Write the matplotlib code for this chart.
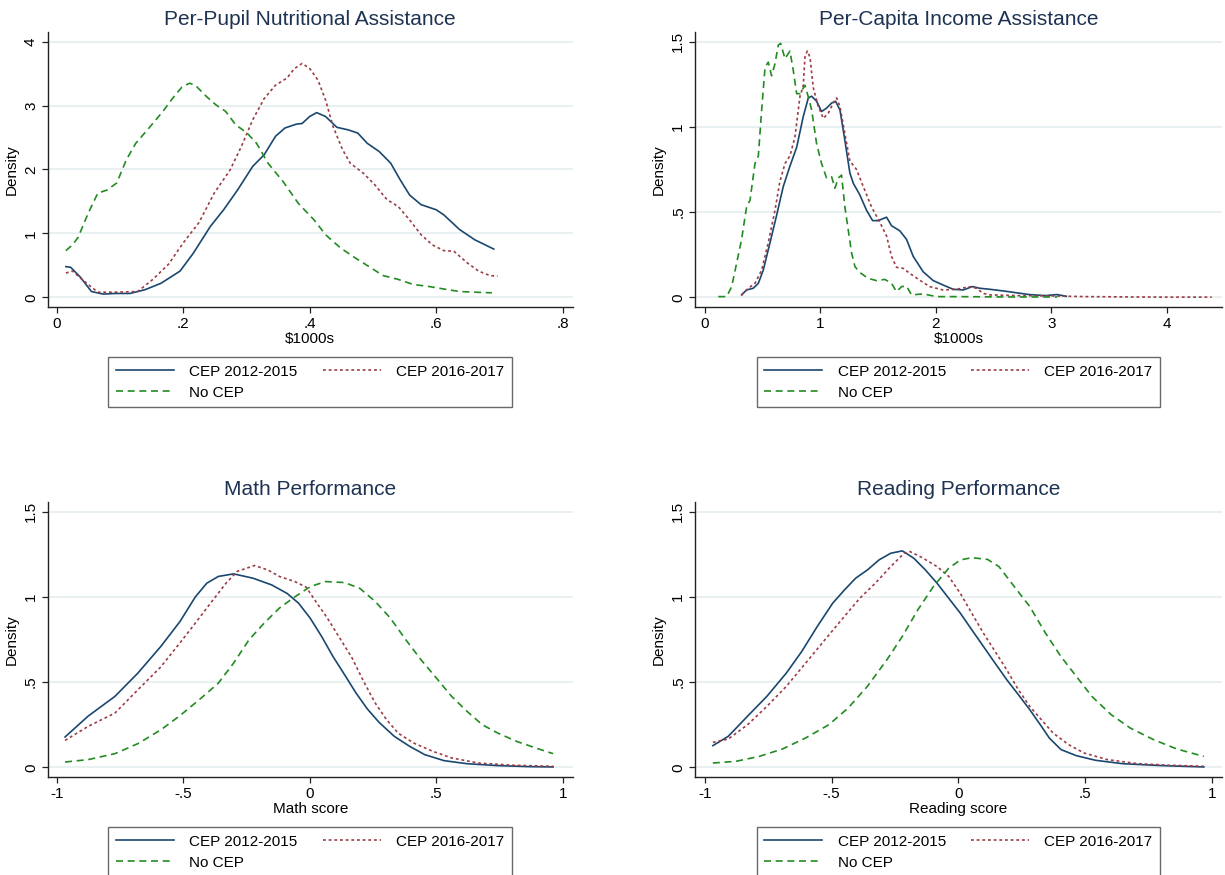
import matplotlib
matplotlib.use("Agg")
import matplotlib.pyplot as plt

plt.rcParams['font.family'] = ['Liberation Sans', 'DejaVu Sans']

series_names = ["CEP 2012-2015", "CEP 2016-2017", "No CEP"]

nutr_x_2012 = [0.0145, 0.022, 0.037, 0.055, 0.074, 0.092, 0.116, 0.14, 0.165, 0.195, 0.216, 0.243, 0.264, 0.286, 0.31, 0.328,
               0.346, 0.361, 0.379, 0.388, 0.4, 0.411, 0.425, 0.443, 0.461, 0.476, 0.491, 0.51, 0.528, 0.543, 0.558,
               0.576, 0.6, 0.612, 0.637, 0.661, 0.691]
nutr_y_2012 = [0.48, 0.47, 0.32, 0.09, 0.05, 0.06, 0.06, 0.12, 0.22, 0.41, 0.69, 1.11, 1.37, 1.68, 2.05, 2.23, 2.52, 2.65,
               2.71, 2.72, 2.83, 2.89, 2.83, 2.66, 2.62, 2.57, 2.41, 2.28, 2.1, 1.84, 1.6, 1.45, 1.37, 1.29, 1.06, 0.9,
               0.755]
nutr_x_2016 = [0.0145, 0.025, 0.04, 0.065, 0.092, 0.128, 0.152, 0.177, 0.2, 0.225, 0.249, 0.274, 0.292, 0.31, 0.328,
               0.346, 0.364, 0.376, 0.388, 0.4, 0.413, 0.425, 0.437, 0.452, 0.464, 0.485, 0.503, 0.522, 0.54, 0.558,
               0.576, 0.594, 0.612, 0.628, 0.649, 0.667, 0.685, 0.697]
nutr_y_2016 = [0.38, 0.41, 0.28, 0.08, 0.08, 0.09, 0.28, 0.52, 0.85, 1.17, 1.63, 1.99, 2.36, 2.78, 3.11, 3.32, 3.43,
               3.58, 3.66, 3.58, 3.4, 3.09, 2.67, 2.31, 2.1, 1.94, 1.76, 1.53, 1.42, 1.21, 0.98, 0.82, 0.73, 0.72, 0.54,
               0.41, 0.34, 0.33]
nutr_x_none = [0.0145, 0.025, 0.034, 0.05, 0.065, 0.08, 0.095, 0.11, 0.125, 0.146, 0.168, 0.183, 0.198, 0.21, 0.219,
               0.237, 0.252, 0.267, 0.283, 0.301, 0.316, 0.334, 0.358, 0.382, 0.407, 0.425, 0.449, 0.473, 0.497,
               0.516, 0.54, 0.564, 0.588, 0.612, 0.637, 0.661, 0.688]
nutr_y_none = [0.73, 0.82, 0.94, 1.32, 1.63, 1.68, 1.79, 2.15, 2.41, 2.65, 2.91, 3.11, 3.29, 3.35, 3.32, 3.14, 3.01,
               2.91, 2.7, 2.57, 2.41, 2.1, 1.81, 1.47, 1.21, 0.98, 0.77, 0.61, 0.46, 0.34, 0.28, 0.2, 0.17, 0.13, 0.09,
               0.08, 0.07]

inc_x_2012 = [0.317, 0.36, 0.418, 0.462, 0.505, 0.563, 0.62, 0.678, 0.736, 0.794, 0.851, 0.895, 0.924, 0.967, 1.01,
              1.053, 1.097, 1.131, 1.169, 1.212, 1.255, 1.284, 1.342, 1.4, 1.452, 1.5, 1.573, 1.616, 1.688, 1.746,
              1.804, 1.89, 1.977, 2.063, 2.15, 2.237, 2.317, 2.381, 2.468, 2.61, 2.81, 2.95, 3.05, 3.13]
inc_y_2012 = [0.014, 0.043, 0.053, 0.082, 0.16, 0.32, 0.48, 0.65, 0.77, 0.88, 1.06, 1.17, 1.18, 1.15, 1.09, 1.11, 1.14,
              1.15, 1.1, 0.92, 0.73, 0.67, 0.6, 0.51, 0.45, 0.45, 0.47, 0.42, 0.39, 0.34, 0.24, 0.15, 0.098, 0.072,
              0.047, 0.043, 0.063, 0.053, 0.047, 0.035, 0.016, 0.01, 0.016, 0.006]
inc_x_2016 = [0.317, 0.375, 0.433, 0.491, 0.548, 0.606, 0.649, 0.693, 0.736, 0.779, 0.823, 0.851, 0.866, 0.886, 0.909,
              0.938, 0.981, 1.025, 1.068, 1.111, 1.14, 1.169, 1.212, 1.255, 1.313, 1.371, 1.443, 1.515, 1.573, 1.616,
              1.659, 1.717, 1.775, 1.861, 1.948, 2.063, 2.179, 2.294, 2.352, 2.41, 2.468, 2.7, 3.0, 3.3, 3.7, 4.0,
              4.39]
inc_y_2016 = [0.014, 0.053, 0.082, 0.16, 0.32, 0.51, 0.68, 0.785, 0.83, 0.94, 1.18, 1.24, 1.41, 1.445, 1.41, 1.23,
              1.12, 1.05, 1.08, 1.14, 1.17, 1.12, 0.96, 0.8, 0.75, 0.65, 0.53, 0.44, 0.36, 0.24, 0.176, 0.17, 0.14,
              0.1, 0.0625, 0.043, 0.047, 0.0625, 0.053, 0.023, 0.014, 0.01, 0.008, 0.004, 0.002, 0.001, 0.001]
inc_x_none = [0.115, 0.188, 0.231, 0.274, 0.317, 0.36, 0.39, 0.433, 0.462, 0.491, 0.52, 0.548, 0.577, 0.606, 0.635,
              0.655, 0.693, 0.736, 0.765, 0.794, 0.823, 0.866, 0.895, 0.924, 0.967, 1.01, 1.053, 1.097, 1.126, 1.154,
              1.183, 1.212, 1.241, 1.27, 1.299, 1.342, 1.414, 1.486, 1.558, 1.616, 1.659, 1.703, 1.746, 1.789, 1.89,
              2.006, 2.18, 2.6, 3.05]
inc_y_none = [0.004, 0.004, 0.0625, 0.2, 0.34, 0.53, 0.57, 0.785, 0.83, 1.1, 1.35, 1.38, 1.3, 1.37, 1.48, 1.49, 1.4,
              1.445, 1.33, 1.195, 1.195, 1.244, 1.176, 1.1, 0.9, 0.785, 0.7, 0.707, 0.64, 0.7, 0.717, 0.53, 0.395,
              0.26, 0.18, 0.145, 0.111, 0.098, 0.105, 0.082, 0.033, 0.0625, 0.066, 0.014, 0.02, 0.004, 0.004, 0.002,
              0.002]

math_x_2012 = [-0.967, -0.876, -0.77, -0.679, -0.588, -0.513, -0.452, -0.407, -0.361, -0.301, -0.225, -0.15, -0.089,
               -0.044, 0.002, 0.047, 0.092, 0.138, 0.183, 0.228, 0.274, 0.334, 0.395, 0.455, 0.531, 0.622, 0.743,
               0.864, 0.962]
math_y_2012 = [0.178, 0.3, 0.416, 0.553, 0.71, 0.855, 1.0, 1.08, 1.12, 1.135, 1.11, 1.07, 1.02, 0.963, 0.875, 0.768,
               0.65, 0.543, 0.436, 0.342, 0.264, 0.182, 0.123, 0.074, 0.039, 0.021, 0.01, 0.004, 0.002]
math_x_2016 = [-0.967, -0.876, -0.77, -0.679, -0.588, -0.513, -0.452, -0.392, -0.331, -0.286, -0.218, -0.165, -0.12,
               -0.059, -0.014, 0.024, 0.07, 0.123, 0.168, 0.213, 0.259, 0.304, 0.35, 0.41, 0.486, 0.561, 0.667, 0.803,
               0.962]
math_y_2016 = [0.158, 0.24, 0.318, 0.455, 0.59, 0.73, 0.846, 0.963, 1.08, 1.15, 1.184, 1.158, 1.12, 1.09, 1.057,
               0.973, 0.875, 0.748, 0.64, 0.504, 0.377, 0.279, 0.2, 0.143, 0.094, 0.055, 0.025, 0.012, 0.006]
math_x_none = [-0.967, -0.876, -0.77, -0.679, -0.588, -0.513, -0.437, -0.361, -0.301, -0.24, -0.18, -0.12, -0.059,
               0.002, 0.062, 0.138, 0.198, 0.259, 0.319, 0.38, 0.44, 0.501, 0.561, 0.622, 0.682, 0.743, 0.818, 0.894,
               0.962]
math_y_none = [0.031, 0.045, 0.08, 0.139, 0.22, 0.303, 0.396, 0.494, 0.611, 0.748, 0.846, 0.934, 1.0, 1.06, 1.09,
               1.084, 1.05, 0.973, 0.875, 0.748, 0.631, 0.523, 0.416, 0.328, 0.25, 0.201, 0.152, 0.113, 0.08]

read_x_2012 = [-0.969, -0.908, -0.832, -0.756, -0.679, -0.618, -0.557, -0.496, -0.45, -0.405, -0.359, -0.313, -0.267,
               -0.221, -0.176, -0.13, -0.084, -0.038, 0.008, 0.053, 0.099, 0.145, 0.191, 0.237, 0.282, 0.328, 0.359,
               0.405, 0.466, 0.542, 0.649, 0.802, 0.969]
read_y_2012 = [0.127, 0.182, 0.3, 0.416, 0.553, 0.68, 0.826, 0.963, 1.04, 1.11, 1.158, 1.217, 1.256, 1.27, 1.227,
               1.158, 1.08, 0.992, 0.904, 0.807, 0.709, 0.611, 0.514, 0.426, 0.338, 0.24, 0.172, 0.104, 0.068, 0.041,
               0.021, 0.01, 0.002]
read_x_2016 = [-0.969, -0.908, -0.832, -0.756, -0.679, -0.603, -0.527, -0.45, -0.389, -0.328, -0.267, -0.214, -0.191,
               -0.145, -0.084, -0.038, 0.008, 0.053, 0.099, 0.145, 0.191, 0.237, 0.282, 0.328, 0.374, 0.435, 0.496,
               0.588, 0.71, 0.832, 0.969]
read_y_2016 = [0.146, 0.166, 0.25, 0.357, 0.475, 0.611, 0.748, 0.885, 0.992, 1.08, 1.178, 1.256, 1.266, 1.232, 1.178,
               1.12, 1.02, 0.904, 0.787, 0.68, 0.572, 0.455, 0.357, 0.279, 0.201, 0.133, 0.084, 0.045, 0.021, 0.012,
               0.006]
read_x_none = [-0.969, -0.878, -0.786, -0.695, -0.603, -0.511, -0.435, -0.359, -0.282, -0.221, -0.16, -0.099, -0.038,
               0.008, 0.053, 0.115, 0.16, 0.221, 0.282, 0.344, 0.405, 0.466, 0.527, 0.603, 0.679, 0.771, 0.863, 0.969]
read_y_none = [0.025, 0.035, 0.064, 0.107, 0.172, 0.25, 0.348, 0.475, 0.631, 0.768, 0.924, 1.06, 1.168, 1.217, 1.23,
               1.22, 1.178, 1.06, 0.943, 0.787, 0.65, 0.533, 0.416, 0.309, 0.23, 0.162, 0.107, 0.064]

# axis ticks
nutr_xticks = [0, 0.2, 0.4, 0.6, 0.8]
nutr_xticklabels = ["0", ".2", ".4", ".6", ".8"]
nutr_yticks = [0, 1, 2, 3, 4]
nutr_yticklabels = ["0", "1", "2", "3", "4"]
inc_xticks = [0, 1, 2, 3, 4]
inc_xticklabels = ["0", "1", "2", "3", "4"]
score_xticks = [-1, -0.5, 0, 0.5, 1]
score_xticklabels = ["-1", "-.5", "0", ".5", "1"]
dens_yticks = [0, 0.5, 1, 1.5]
dens_yticklabels = ["0", ".5", "1", "1.5"]

NAVY = "#1a476f"
MAROON = "#9a3d45"
GREEN = "#228b22"
GRID = "#e4edf0"
TITLE = "#1e3352"

fig = plt.figure(figsize=(12.25, 8.75), dpi=100)
fig.patch.set_facecolor("white")

W, H = 1225.0, 875.0


def panel(rect, leg_top, title, xs, ys, xticks, xtl, yticks, ytl, xlim, ylim, xlabel):
    ax = fig.add_axes(rect)
    for yv in yticks:
        ax.axhline(yv, color=GRID, lw=1.2, zorder=0)
    h1, = ax.plot(xs[0], ys[0], color=NAVY, lw=1.2, solid_joinstyle='round')
    h2, = ax.plot(xs[1], ys[1], color=MAROON, lw=1.2, linestyle=(0, (1.7, 1.7)))
    h3, = ax.plot(xs[2], ys[2], color=GREEN, lw=1.2, linestyle=(0, (4.2, 2.8)))
    ax.set_xlim(*xlim)
    ax.set_ylim(*ylim)
    ax.set_xticks(xticks)
    ax.set_xticklabels(xtl)
    ax.set_yticks(yticks)
    ax.set_yticklabels(ytl, rotation=90, va='center')
    for s in ("top", "right"):
        ax.spines[s].set_visible(False)
    for s in ("left", "bottom"):
        ax.spines[s].set_color("#222222")
        ax.spines[s].set_linewidth(1.0)
    ax.tick_params(axis='both', direction='out', length=4, width=0.9, color="#222222",
                   labelsize=11, pad=3)
    ax.set_ylabel("Density", fontsize=11, labelpad=4)
    ax.set_xlabel(xlabel, fontsize=11, labelpad=1)
    ax.set_title(title, fontsize=15, color=TITLE, pad=5)
    # legend below the plot: two columns, third entry on the second row
    l, b, w, h = rect
    leg = ax.legend([h1, h3, h2], [series_names[0], series_names[2], series_names[1]],
                    ncol=2, loc='upper center', bbox_to_anchor=(l + w / 2, leg_top),
                    bbox_transform=fig.transFigure, fontsize=11, frameon=True, fancybox=False,
                    handlelength=3.8, handletextpad=1.0, columnspacing=1.65, labelspacing=0.45,
                    borderpad=0.5, borderaxespad=0)
    leg.get_frame().set_edgecolor("#444444")
    leg.get_frame().set_linewidth(1.0)
    return ax


rect_tl = [47.7 / W, 1 - 307.3 / H, 525.0 / W, 275.0 / H]
rect_tr = [695.0 / W, 1 - 307.3 / H, 526.7 / W, 275.0 / H]
rect_bl = [47.7 / W, 1 - 777.3 / H, 525.0 / W, 275.0 / H]
rect_br = [695.0 / W, 1 - 777.3 / H, 526.7 / W, 275.0 / H]
top_row_leg = 1 - 357 / H
bottom_row_leg = 1 - 827 / H

panel(rect_tl, top_row_leg, "Per-Pupil Nutritional Assistance",
      [nutr_x_2012, nutr_x_2016, nutr_x_none], [nutr_y_2012, nutr_y_2016, nutr_y_none],
      nutr_xticks, nutr_xticklabels, nutr_yticks, nutr_yticklabels,
      (-0.0142, 0.8158), (-0.1565, 4.147), "$1000s")
panel(rect_tr, top_row_leg, "Per-Capita Income Assistance",
      [inc_x_2012, inc_x_2016, inc_x_none], [inc_y_2012, inc_y_2016, inc_y_none],
      inc_xticks, inc_xticklabels, dens_yticks, dens_yticklabels,
      (-0.0867, 4.4766), (-0.0587, 1.555), "$1000s")
panel(rect_bl, bottom_row_leg, "Math Performance",
      [math_x_2012, math_x_2016, math_x_none], [math_y_2012, math_y_2016, math_y_none],
      score_xticks, score_xticklabels, dens_yticks, dens_yticklabels,
      (-1.0356, 1.0395), (-0.0587, 1.555), "Math score")
panel(rect_br, bottom_row_leg, "Reading Performance",
      [read_x_2012, read_x_2016, read_x_none], [read_y_2012, read_y_2016, read_y_none],
      score_xticks, score_xticklabels, dens_yticks, dens_yticklabels,
      (-1.0395, 1.0395), (-0.0587, 1.555), "Reading score")

fig.savefig("out.png", dpi=100, facecolor="white")
